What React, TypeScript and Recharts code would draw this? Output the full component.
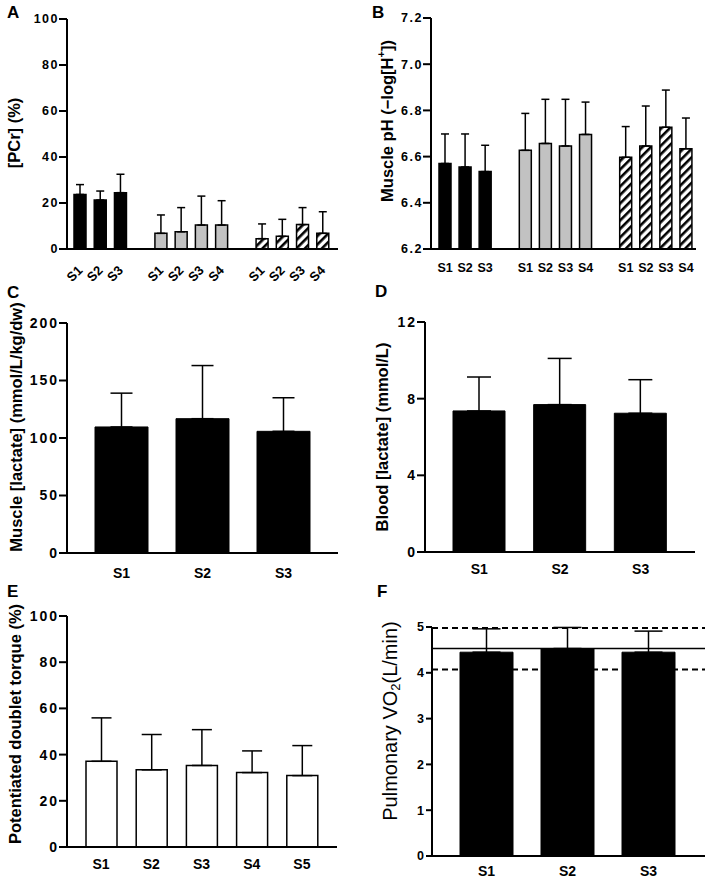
import React from 'react';
import { BarChart, Bar, XAxis, YAxis, ErrorBar, Cell, ReferenceLine } from 'recharts';

const FONT = '"Liberation Sans", Arial, Helvetica, sans-serif';

// A – [PCr] (%), three conditions, '' = gap between conditions
const pcrSessions = ['S1', 'S2', 'S3', '', 'S1', 'S2', 'S3', 'S4', '', 'S1', 'S2', 'S3', 'S4'];
const pcrCondition = [0, 0, 0, -1, 1, 1, 1, 1, -1, 2, 2, 2, 2];
const pcrMean = [23.7, 21.3, 24.5, null, 6.8, 7.5, 10.4, 10.4, null, 4.5, 5.5, 10.6, 6.8];
const pcrSd = [4.3, 3.9, 8.0, null, 8.0, 10.5, 12.6, 10.6, null, 6.4, 7.4, 7.4, 9.4];
const pcrTicks = [0, 20, 40, 60, 80, 100];

// B – muscle pH
const phSessions = ['S1', 'S2', 'S3', '', 'S1', 'S2', 'S3', 'S4', '', 'S1', 'S2', 'S3', 'S4'];
const phCondition = [0, 0, 0, -1, 1, 1, 1, 1, -1, 2, 2, 2, 2];
const phMean = [6.57, 6.555, 6.535, null, 6.627, 6.657, 6.646, 6.696, null, 6.597, 6.646, 6.727, 6.634];
const phSd = [0.128, 0.143, 0.114, null, 0.16, 0.191, 0.202, 0.14, null, 0.133, 0.173, 0.161, 0.133];
const phTicks = [6.2, 6.4, 6.6, 6.8, 7.0, 7.2];

// C – muscle lactate
const lacSessions = ['S1', 'S2', 'S3'];
const muscleLacMean = [109.6, 116.8, 105.8];
const muscleLacSd = [29.4, 46.2, 29.2];
const muscleLacTicks = [0, 50, 100, 150, 200];

// D – blood lactate
const bloodLacMean = [7.36, 7.69, 7.24];
const bloodLacSd = [1.77, 2.41, 1.75];
const bloodLacTicks = [0, 4, 8, 12];

// E – potentiated doublet torque
const torqueSessions = ['S1', 'S2', 'S3', 'S4', 'S5'];
const torqueMean = [37.1, 33.4, 35.3, 32.2, 30.9];
const torqueSd = [18.8, 15.3, 15.5, 9.4, 13.0];
const torqueTicks = [0, 20, 40, 60, 80, 100];

// F – pulmonary VO2, with VO2peak mean ± SD lines
const vo2Mean = [4.45, 4.53, 4.45];
const vo2Sd = [0.51, 0.46, 0.46];
const vo2PeakMean = 4.53;
const vo2PeakHigh = 4.98;
const vo2PeakLow = 4.07;
const vo2Ticks = [0, 1, 2, 3, 4, 5];

const CONDITION_FILL = ['#000', '#c2c2c2'];

const rows = (names: string[], mean: (number | null)[], sd: (number | null)[], cond?: number[]) =>
  names.map((name, i) => ({
    name,
    mean: mean[i],
    err: sd[i] == null ? null : [0, sd[i]],
    cond: cond ? cond[i] : 0,
  }));

const pcrData = rows(pcrSessions, pcrMean, pcrSd, pcrCondition);
const phData = rows(phSessions, phMean, phSd, phCondition);
const muscleLacData = rows(lacSessions, muscleLacMean, muscleLacSd);
const bloodLacData = rows(lacSessions, bloodLacMean, bloodLacSd);
const torqueData = rows(torqueSessions, torqueMean, torqueSd);
const vo2Data = rows(lacSessions, vo2Mean, vo2Sd);

const tickStyle = (size: number, spacing = 0) => ({
  fill: '#000',
  fontSize: size,
  fontWeight: 700,
  fontFamily: FONT,
  letterSpacing: spacing,
});
const axisLine = { stroke: '#000', strokeWidth: 2 };

const yTitle = (content: React.ReactNode, x: number, y: number, size = 16.5, weight = 700) => () => (
  <text
    x={x}
    y={y}
    transform={`rotate(-90, ${x}, ${y})`}
    textAnchor="middle"
    dominantBaseline="central"
    fill="#000"
    fontSize={size}
    fontWeight={weight}
    fontFamily={FONT}
  >
    {content}
  </text>
);

const SlantTick = (props: any) => {
  const { x, y, payload } = props;
  return (
    <text
      x={x}
      y={y}
      transform={`rotate(-45, ${x}, ${y})`}
      textAnchor="end"
      dominantBaseline="central"
      fill="#000"
      fontSize={13}
      fontWeight={700}
      fontFamily={FONT}
    >
      {payload.value}
    </text>
  );
};

const hatch = (id: string) => (
  <defs>
    <pattern id={id} patternUnits="userSpaceOnUse" width="6" height="6" patternTransform="rotate(45)">
      <rect width="6" height="6" fill="#fff" />
      <rect width="2.6" height="6" fill="#000" />
    </pattern>
  </defs>
);

const condFill = (cond: number, hatchId: string) => (cond === 2 ? `url(#${hatchId})` : CONDITION_FILL[cond] ?? '#000');

const letter = (text: string, left: number, top: number) => (
  <div
    style={{
      position: 'absolute',
      left,
      top,
      fontFamily: FONT,
      fontWeight: 700,
      fontSize: 17,
      lineHeight: 1,
      color: '#000',
    }}
  >
    {text}
  </div>
);

export default function App() {
  return (
    <div style={{ position: 'absolute', left: 0, top: 0, width: 709, height: 879, background: '#fff', overflow: 'hidden' }}>
      {/* A */}
      <div style={{ position: 'absolute', left: 0, top: 0 }}>
        <BarChart width={345} height={290} data={pcrData} margin={{ top: 19, right: 7, left: 0, bottom: 0 }} barSize={12}>
          {hatch('hatchA')}
          <XAxis
            dataKey="name"
            interval={0}
            height={41}
            tickSize={0}
            tickMargin={19}
            tickLine={false}
            axisLine={axisLine}
            padding={{ left: 3, right: 5 }}
            tick={<SlantTick />}
          />
          <YAxis
            width={67}
            domain={[0, 100]}
            ticks={pcrTicks}
            tickSize={8}
            tickMargin={0}
            tick={tickStyle(12.5, 1.5)}
            axisLine={axisLine}
            tickLine={axisLine}
            label={yTitle('[PCr] (%)', 14, 133)}
          />
          <Bar dataKey="mean" stroke="#000" strokeWidth={1.5} isAnimationActive={false}>
            {pcrData.map((d, i) => (
              <Cell key={i} fill={condFill(d.cond, 'hatchA')} />
            ))}
            <ErrorBar dataKey="err" width={4} stroke="#000" strokeWidth={1.5} />
          </Bar>
        </BarChart>
      </div>

      {/* B */}
      <div style={{ position: 'absolute', left: 355, top: 0 }}>
        <BarChart width={354} height={290} data={phData} margin={{ top: 18, right: 13, left: 0, bottom: 0 }} barSize={12}>
          {hatch('hatchB')}
          <XAxis
            dataKey="name"
            interval={0}
            height={41}
            tickSize={0}
            tickMargin={14}
            tickLine={false}
            axisLine={axisLine}
            padding={{ left: 4, right: 0 }}
            tick={tickStyle(12.5)}
          />
          <YAxis
            width={76}
            domain={[6.2, 7.2]}
            ticks={phTicks}
            tickFormatter={(v: number) => v.toFixed(1)}
            tickSize={8}
            tickMargin={0}
            tick={tickStyle(12.5, 1.5)}
            axisLine={axisLine}
            tickLine={axisLine}
            label={yTitle(
              <>
                Muscle pH (−log[H
                <tspan dy={-6} fontSize={11}>+</tspan>
                <tspan dy={6}>])</tspan>
              </>,
              32,
              121,
            )}
          />
          <Bar dataKey="mean" stroke="#000" strokeWidth={1.5} isAnimationActive={false}>
            {phData.map((d, i) => (
              <Cell key={i} fill={condFill(d.cond, 'hatchB')} />
            ))}
            <ErrorBar dataKey="err" width={4} stroke="#000" strokeWidth={1.5} />
          </Bar>
        </BarChart>
      </div>

      {/* C */}
      <div style={{ position: 'absolute', left: 0, top: 290 }}>
        <BarChart width={345} height={300} data={muscleLacData} margin={{ top: 33, right: 7, left: 0, bottom: 0 }} barSize={53}>
          <XAxis
            dataKey="name"
            height={37}
            tickSize={0}
            tickMargin={15}
            tickLine={false}
            axisLine={axisLine}
            padding={{ left: 14, right: 14 }}
            tick={tickStyle(14)}
          />
          <YAxis
            width={67}
            domain={[0, 200]}
            ticks={muscleLacTicks}
            tickSize={8}
            tickMargin={0}
            tick={tickStyle(14, 2)}
            axisLine={axisLine}
            tickLine={axisLine}
            label={yTitle('Muscle [lactate] (mmol/L/kg/dw)', 16, 137)}
          />
          <Bar dataKey="mean" fill="#000" stroke="#000" strokeWidth={1} isAnimationActive={false}>
            <ErrorBar dataKey="err" width={11} stroke="#000" strokeWidth={1.5} />
          </Bar>
        </BarChart>
      </div>

      {/* D */}
      <div style={{ position: 'absolute', left: 355, top: 290 }}>
        <BarChart width={354} height={300} data={bloodLacData} margin={{ top: 32, right: 14, left: 0, bottom: 0 }} barSize={52}>
          <XAxis
            dataKey="name"
            height={38}
            tickSize={0}
            tickMargin={12}
            tickLine={false}
            axisLine={axisLine}
            padding={{ left: 14, right: 14 }}
            tick={tickStyle(14)}
          />
          <YAxis
            width={70}
            domain={[0, 12]}
            ticks={bloodLacTicks}
            tickSize={8}
            tickMargin={0}
            tick={tickStyle(14, 2)}
            axisLine={axisLine}
            tickLine={axisLine}
            label={yTitle('Blood [lactate] (mmol/L)', 27, 147)}
          />
          <Bar dataKey="mean" fill="#000" stroke="#000" strokeWidth={1} isAnimationActive={false}>
            <ErrorBar dataKey="err" width={12} stroke="#000" strokeWidth={1.5} />
          </Bar>
        </BarChart>
      </div>

      {/* E */}
      <div style={{ position: 'absolute', left: 0, top: 580 }}>
        <BarChart width={345} height={299} data={torqueData} margin={{ top: 36, right: 8, left: 0, bottom: 0 }} barSize={31}>
          <XAxis
            dataKey="name"
            height={32}
            tickSize={0}
            tickMargin={12}
            tickLine={false}
            axisLine={axisLine}
            padding={{ left: 9, right: 10 }}
            tick={tickStyle(14)}
          />
          <YAxis
            width={67}
            domain={[0, 100]}
            ticks={torqueTicks}
            tickSize={8}
            tickMargin={0}
            tick={tickStyle(14, 2)}
            axisLine={axisLine}
            tickLine={axisLine}
            label={yTitle('Potentiated doublet torque (%)', 15, 144)}
          />
          <Bar dataKey="mean" fill="#fff" stroke="#000" strokeWidth={1.5} isAnimationActive={false}>
            <ErrorBar dataKey="err" width={10} stroke="#000" strokeWidth={1.5} />
          </Bar>
        </BarChart>
      </div>

      {/* F */}
      <div style={{ position: 'absolute', left: 355, top: 580 }}>
        <BarChart width={354} height={299} data={vo2Data} margin={{ top: 47, right: 4, left: 0, bottom: 0 }} barSize={53}>
          <XAxis
            dataKey="name"
            height={23}
            tickSize={0}
            tickMargin={10}
            tickLine={false}
            axisLine={axisLine}
            padding={{ left: 14, right: 16 }}
            tick={tickStyle(14)}
          />
          <YAxis
            width={77}
            domain={[0, 5]}
            ticks={vo2Ticks}
            tickSize={6}
            tickMargin={1}
            tick={tickStyle(12.5, 1)}
            axisLine={axisLine}
            tickLine={axisLine}
            label={yTitle(
              <>
                Pulmonary VO
                <tspan dy={5} fontSize={13}>2</tspan>
                <tspan dy={-5}>(L/min)</tspan>
              </>,
              35,
              141,
              20,
              400,
            )}
          />
          <Bar dataKey="mean" fill="#000" stroke="#000" strokeWidth={1} isAnimationActive={false}>
            <ErrorBar dataKey="err" width={14} stroke="#000" strokeWidth={1.5} />
          </Bar>
          <ReferenceLine y={vo2PeakMean} stroke="#000" strokeWidth={1.5} />
          <ReferenceLine y={vo2PeakHigh} stroke="#000" strokeWidth={2} strokeDasharray="6 4" />
          <ReferenceLine y={vo2PeakLow} stroke="#000" strokeWidth={2} strokeDasharray="6 4" />
        </BarChart>
      </div>

      {letter('A', 7, 4)}
      {letter('B', 372, 4)}
      {letter('C', 7, 284)}
      {letter('D', 375, 283)}
      {letter('E', 7, 583)}
      {letter('F', 377, 583)}
    </div>
  );
}
